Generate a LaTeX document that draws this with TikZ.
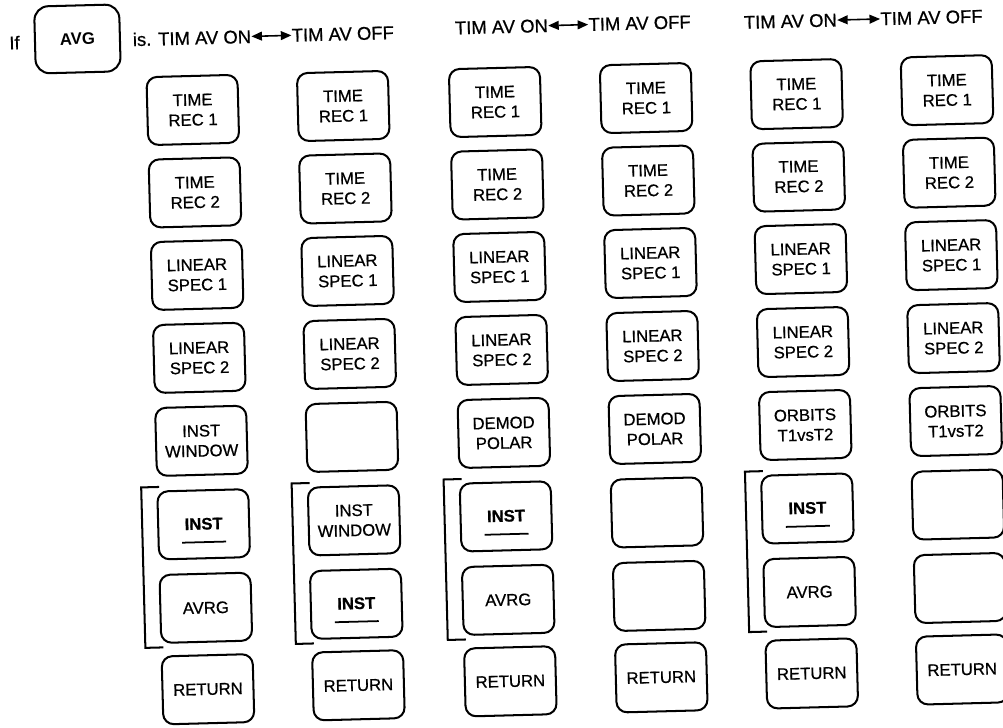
\documentclass[tikz,border=0pt]{standalone}
\usepackage{fontspec}
\setmainfont{Liberation Sans}
\newfontfamily\plotfont{Liberation Sans}[FakeBold=0.7]
\usetikzlibrary{arrows.meta}

% underlined INST key text
\newcommand{\instkey}{\rule{0pt}{6pt}\\[-3.75pt]\textbf{INST}\\[-3.75pt]\rule{0.88cm}{1pt}}

\begin{document}
\begin{tikzpicture}[x=0.02cm, y=-0.02cm,
  softkey/.style={draw, line width=1.15pt, rounded corners=6pt,
    minimum width=1.82cm, minimum height=1.36cm, inner sep=0pt,
    align=center, font=\plotfont\fontsize{9.5}{11.4}\selectfont},
  hdr/.style={inner sep=0pt, font=\plotfont\fontsize{10.5}{12}\selectfont},
  toggle/.style={{Triangle[length=6pt,width=5pt]}-{Triangle[length=6pt,width=5pt]},
    line width=0.9pt},
  bracket/.style={line width=1.15pt}]
  \useasboundingbox (0,0) rectangle (1003,727);
  \begin{scope}[rotate around={1.5:(500,400)}, transform shape]
  % Header line
  \node[hdr] (if) at (24,30) {If};
  \node[softkey, minimum width=1.7cm, minimum height=1.34cm, rounded corners=8pt,
    font=\bfseries\fontsize{9.5}{11.4}\selectfont] (avg) at (87,28) {AVG};
  \node[hdr, anchor=east] (on1) at (261,30) {is. TIM AV ON};
  \node[hdr, anchor=west] (off1) at (301,30) {TIM AV OFF};
  \node[hdr, anchor=east] (on2) at (558,27) {TIM AV ON};
  \node[hdr, anchor=west] (off2) at (598,27) {TIM AV OFF};
  \node[hdr, anchor=east] (on3) at (847,29) {TIM AV ON};
  \node[hdr, anchor=west] (off3) at (890,29) {TIM AV OFF};
  \draw[toggle] (on1.east) -- (off1.west);
  \draw[toggle] (on2.east) -- (off2.west);
  \draw[toggle] (on3.east) -- (off3.west);

  % Column 1
  \node[softkey] (a1) at (200.5,102) {TIME\\REC 1};
  \node[softkey] (a2) at (200.5,184.5) {TIME\\REC 2};
  \node[softkey] (a3) at (200.5,267) {LINEAR\\SPEC 1};
  \node[softkey] (a4) at (200.5,350) {LINEAR\\SPEC 2};
  \node[softkey] (a5) at (200.5,433) {INST\\WINDOW};
  \node[softkey] (a6) at (200.5,516.5) {\instkey};
  \node[softkey] (a7) at (200.5,600) {AVRG};
  \node[softkey] (a8) at (200.5,681.5) {RETURN};
  \draw[bracket] (157,478) -- (139,478) -- (139,638.5) -- (157,638.5);

  % Column 2
  \node[softkey] (b1) at (351,102) {TIME\\REC 1};
  \node[softkey] (b2) at (351,184.5) {TIME\\REC 2};
  \node[softkey] (b3) at (351,267) {LINEAR\\SPEC 1};
  \node[softkey] (b4) at (351,350) {LINEAR\\SPEC 2};
  \node[softkey] (b5) at (351,433) {};
  \node[softkey] (b6) at (351,516.5) {INST\\WINDOW};
  \node[softkey] (b7) at (351,600) {\instkey};
  \node[softkey] (b8) at (351,681.5) {RETURN};
  \draw[bracket] (307.5,478) -- (289.5,478) -- (289.5,638.5) -- (307.5,638.5);

  % Column 3
  \node[softkey] (c1) at (503,102) {TIME\\REC 1};
  \node[softkey] (c2) at (503,184.5) {TIME\\REC 2};
  \node[softkey] (c3) at (503,267) {LINEAR\\SPEC 1};
  \node[softkey] (c4) at (503,350) {LINEAR\\SPEC 2};
  \node[softkey] (c5) at (503,433) {DEMOD\\POLAR};
  \node[softkey] (c6) at (503,516.5) {\instkey};
  \node[softkey] (c7) at (503,600) {AVRG};
  \node[softkey] (c8) at (503,681.5) {RETURN};
  \draw[bracket] (459.5,478) -- (441.5,478) -- (441.5,638.5) -- (459.5,638.5);

  % Column 4
  \node[softkey] (d1) at (654,102) {TIME\\REC 1};
  \node[softkey] (d2) at (654,184.5) {TIME\\REC 2};
  \node[softkey] (d3) at (654,267) {LINEAR\\SPEC 1};
  \node[softkey] (d4) at (654,350) {LINEAR\\SPEC 2};
  \node[softkey] (d5) at (654,433) {DEMOD\\POLAR};
  \node[softkey] (d6) at (654,516.5) {};
  \node[softkey] (d7) at (654,600) {};
  \node[softkey] (d8) at (654,681.5) {RETURN};

  % Column 5
  \node[softkey] (e1) at (804.5,102) {TIME\\REC 1};
  \node[softkey] (e2) at (804.5,184.5) {TIME\\REC 2};
  \node[softkey] (e3) at (804.5,267) {LINEAR\\SPEC 1};
  \node[softkey] (e4) at (804.5,350) {LINEAR\\SPEC 2};
  \node[softkey] (e5) at (804.5,433) {ORBITS\\T1vsT2};
  \node[softkey] (e6) at (804.5,516.5) {\instkey};
  \node[softkey] (e7) at (804.5,600) {AVRG};
  \node[softkey] (e8) at (804.5,681.5) {RETURN};
  \draw[bracket] (761,478) -- (743,478) -- (743,638.5) -- (761,638.5);

  % Column 6
  \node[softkey] (f1) at (955,102) {TIME\\REC 1};
  \node[softkey] (f2) at (955,184.5) {TIME\\REC 2};
  \node[softkey] (f3) at (955,267) {LINEAR\\SPEC 1};
  \node[softkey] (f4) at (955,350) {LINEAR\\SPEC 2};
  \node[softkey] (f5) at (955,433) {ORBITS\\T1vsT2};
  \node[softkey] (f6) at (955,516.5) {};
  \node[softkey] (f7) at (955,600) {};
  \node[softkey] (f8) at (955,681.5) {RETURN};
  \end{scope}
\end{tikzpicture}
\end{document}
